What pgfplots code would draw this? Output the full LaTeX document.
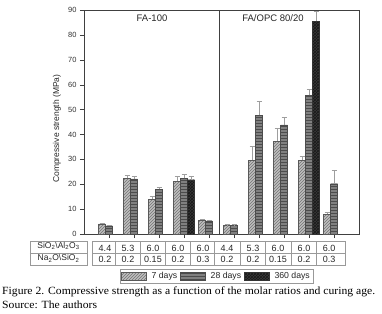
\documentclass[border=0pt]{standalone}
\usepackage{pgfplots}
\pgfplotsset{compat=1.18}
\usepackage{fontspec}
\setmainfont{Liberation Sans}
\newfontfamily\timesfont{Liberation Serif}
\usetikzlibrary{patterns}
\definecolor{c7}{gray}{0.75}
\definecolor{c28}{gray}{0.5}
\definecolor{c360}{gray}{0.22}
\definecolor{errc}{gray}{0.62}
\definecolor{tabline}{gray}{0.6}
\pgfplotsset{myerr/.style={error bars/.cd, y dir=plus, y explicit,
  error bar style={errc, line width=0.6pt},
  error mark options={errc, rotate=90, mark size=2.5pt, line width=0.6pt}}}
\begin{document}
\begin{tikzpicture}
\useasboundingbox (-84pt,-79pt) rectangle (298pt,234pt);
\begin{axis}[
  at={(0pt,0pt)}, anchor=south west,
  scale only axis, width=275pt, height=224pt,
  xmin=0, xmax=11, ymin=0, ymax=90,
  ybar=0pt, bar width=7pt,
  xtick={1,...,10}, xticklabels={},
  ytick={0,10,...,90},
  tick align=outside, major tick length=4pt,
  xtick pos=bottom, ytick pos=left,
  axis line style={black!75},
  tick style={black!75},
  tick label style={font=\fontsize{7.5}{9}\selectfont, text=black!80},
  /pgf/number format/assume math mode=true,
  ylabel={Compressive strength (MPa)},
  ylabel style={at={(axis description cs:-0.098,0.47)}, anchor=center, font=\fontsize{8.5}{10}\selectfont, text=black!85},
  legend style={at={(axis description cs:0.482,-0.1875)}, anchor=center, draw=tabline,
    font=\fontsize{8.7}{10}\selectfont, inner sep=1pt, text=black!85,
    /tikz/every even column/.append style={column sep=1pt},
    /tikz/every odd column/.append style={column sep=3pt}},
  legend columns=3,
  legend image code/.code={\draw[#1] (0pt,-4pt) rectangle (25pt,4pt);},
]
\addplot[fill=c7, draw=black!65, postaction={pattern=north east lines, pattern color=black!55}, myerr] coordinates {
 (1,4.1) +- (0,0.3)
 (2,22.5) +- (0,1.2)
 (3,14.0) +- (0,1.2)
 (4,21.2) +- (0,2.0)
 (5,5.6) +- (0,0.4)
 (6,3.6) +- (0,0.2)
 (7,29.7) +- (0,5.6)
 (8,37.3) +- (0,5.1)
 (9,29.7) +- (0,1.6)
 (10,7.9) +- (0,0.9)
};
\addlegendentry{7 days}
\addplot[fill=c28, draw=black!70, postaction={pattern=horizontal lines, pattern color=black!70}, myerr] coordinates {
 (1,3.3) +- (0,0.3)
 (2,22.1) +- (0,1.1)
 (3,18.0) +- (0,0.6)
 (4,22.3) +- (0,1.5)
 (5,5.3) +- (0,0.4)
 (6,3.5) +- (0,0.2)
 (7,47.8) +- (0,5.6)
 (8,43.8) +- (0,3.1)
 (9,55.7) +- (0,2.4)
 (10,20.2) +- (0,5.4)
};
\addlegendentry{28 days}
\addplot[fill=c360, draw=black!80, postaction={pattern=crosshatch, pattern color=black!90}, myerr] coordinates {
 (4,21.8) +- (0,1.4)
 (9,85.5) +- (0,4.1)
};
\addlegendentry{360 days}
\draw[black!75] (axis cs:5.4,0) -- (axis cs:5.4,90);
\node[font=\fontsize{9.5}{11}\selectfont, text=black!85] at (axis cs:2.72,86.8) {FA-100};
\node[font=\fontsize{9.5}{11}\selectfont, text=black!85] at (axis cs:7.56,86.8) {FA/OPC 80/20};
\end{axis}
% table
\begin{scope}[tabline, line width=0.5pt]
\draw (-54pt,-7pt) rectangle (3pt,-31pt);
\draw (-54pt,-19pt) -- (3pt,-19pt);
\draw (8pt,-7pt) rectangle (261pt,-31pt);
\draw (8pt,-19pt) -- (261pt,-19pt);
\foreach \xx in {31,56,81,106,130,156,181,207,232} \draw (\xx pt,-7pt) -- (\xx pt,-31pt);
\end{scope}
\begin{scope}[every node/.style={font=\fontsize{8.5}{10}\selectfont, text=black!85, inner sep=0pt}]
\node at (-25.5pt,-12pt) {SiO\textsubscript{2}\textbackslash Al\textsubscript{2}O\textsubscript{3}};
\node at (-25.5pt,-24.5pt) {Na\textsubscript{2}O\textbackslash SiO\textsubscript{2}};
\end{scope}
\begin{scope}[every node/.style={font=\fontsize{9}{10}\selectfont, text=black!85, inner sep=0pt}]
\foreach \xa/\v in {8/4.4,31/5.3,56/6.0,81/6.0,106/6.0,130/4.4,156/5.3,181/6.0,207/6.0,232/6.0}
  \node at (\xa pt+13pt,-14.5pt) {\v};
\foreach \xa/\v in {8/0.2,31/0.2,56/0.15,81/0.2,106/0.3,130/0.2,156/0.2,181/0.15,207/0.2,232/0.3}
  \node at (\xa pt+13pt,-25.5pt) {\v};
\end{scope}
\node[anchor=base west, inner sep=0pt, font=\timesfont\fontsize{11}{12}\selectfont] at (-82pt,-60pt) {\scalebox{1.06}[1]{Figure 2. Compressive strength as a function of the molar ratios and curing age.}};
\node[anchor=base west, inner sep=0pt, font=\timesfont\fontsize{11}{12}\selectfont] at (-82pt,-74pt) {\scalebox{1.06}[1]{Source: The authors}};
\end{tikzpicture}
\end{document}
